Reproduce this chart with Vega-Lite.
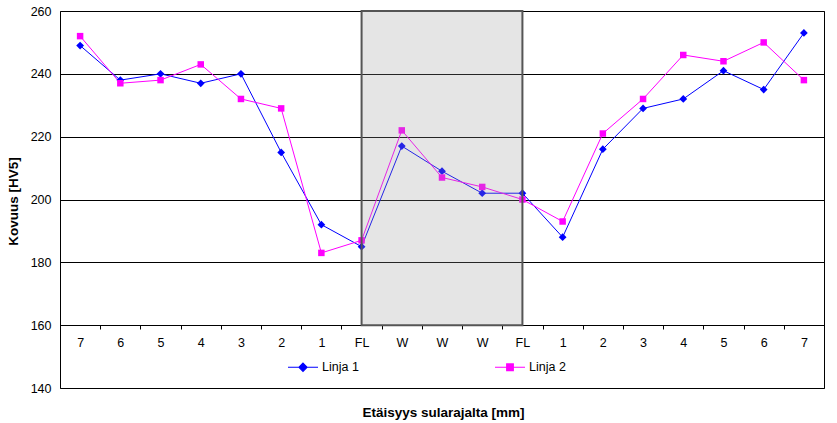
{
  "$schema": "https://vega.github.io/schema/vega-lite/v6.json",
  "width": 764,
  "height": 377,
  "autosize": {"type": "none"},
  "padding": {"left": 60, "top": 11, "right": 13, "bottom": 35},
  "background": "white",
  "config": {
    "font": "Liberation Sans",
    "view": {"stroke": "black", "strokeWidth": 1},
    "axis": {"labelColor": "black", "titleColor": "black", "labelFontSize": 12.5, "labelFont": "Liberation Sans", "titleFont": "Liberation Sans", "titleFontWeight": "bold", "titleFontSize": 13.5}
  },
  "datasets": {
    "hv": [
      {"i": 0, "series": "Linja 1", "v": 249}, {"i": 1, "series": "Linja 1", "v": 238}, {"i": 2, "series": "Linja 1", "v": 240},
      {"i": 3, "series": "Linja 1", "v": 237}, {"i": 4, "series": "Linja 1", "v": 240}, {"i": 5, "series": "Linja 1", "v": 215},
      {"i": 6, "series": "Linja 1", "v": 192}, {"i": 7, "series": "Linja 1", "v": 185}, {"i": 8, "series": "Linja 1", "v": 217},
      {"i": 9, "series": "Linja 1", "v": 209}, {"i": 10, "series": "Linja 1", "v": 202}, {"i": 11, "series": "Linja 1", "v": 202},
      {"i": 12, "series": "Linja 1", "v": 188}, {"i": 13, "series": "Linja 1", "v": 216}, {"i": 14, "series": "Linja 1", "v": 229},
      {"i": 15, "series": "Linja 1", "v": 232}, {"i": 16, "series": "Linja 1", "v": 241}, {"i": 17, "series": "Linja 1", "v": 235},
      {"i": 18, "series": "Linja 1", "v": 253},
      {"i": 0, "series": "Linja 2", "v": 252}, {"i": 1, "series": "Linja 2", "v": 237}, {"i": 2, "series": "Linja 2", "v": 238},
      {"i": 3, "series": "Linja 2", "v": 243}, {"i": 4, "series": "Linja 2", "v": 232}, {"i": 5, "series": "Linja 2", "v": 229},
      {"i": 6, "series": "Linja 2", "v": 183}, {"i": 7, "series": "Linja 2", "v": 187}, {"i": 8, "series": "Linja 2", "v": 222},
      {"i": 9, "series": "Linja 2", "v": 207}, {"i": 10, "series": "Linja 2", "v": 204}, {"i": 11, "series": "Linja 2", "v": 200},
      {"i": 12, "series": "Linja 2", "v": 193}, {"i": 13, "series": "Linja 2", "v": 221}, {"i": 14, "series": "Linja 2", "v": 232},
      {"i": 15, "series": "Linja 2", "v": 246}, {"i": 16, "series": "Linja 2", "v": 244}, {"i": 17, "series": "Linja 2", "v": 250},
      {"i": 18, "series": "Linja 2", "v": 238}
    ],
    "zone": [{"i": 7, "i2": 11, "lo": 160, "hi": 260}]
  },
  "layer": [
    {
      "data": {"name": "hv"},
      "mark": {"type": "line", "strokeWidth": 1},
      "encoding": {
        "x": {
          "field": "i", "type": "ordinal", "sort": "ascending",
          "scale": {"paddingInner": 0, "paddingOuter": 0},
          "axis": {
            "orient": "bottom", "offset": -63, "domain": false, "grid": false,
            "tickBand": "extent", "tickSize": 4, "tickColor": "black", "labelAngle": 0,
            "labelPadding": 7,
            "labelExpr": "['7','6','5','4','3','2','1','FL','W','W','W','FL','1','2','3','4','5','6','7'][datum.value]",
            "title": "Etäisyys sularajalta [mm]", "titleX": 383, "titleY": 91, "titleBaseline": "alphabetic", "titleAnchor": null, "titleAlign": "center"
          }
        },
        "y": {
          "field": "v", "type": "quantitative",
          "scale": {"domain": [140, 260], "nice": false, "zero": false},
          "axis": {
            "values": [140, 160, 180, 200, 220, 240, 260], "grid": true, "gridColor": "black", "gridOpacity": 1, "gridWidth": 1,
            "domain": false, "ticks": false, "labelPadding": 9,
            "title": "Kovuus [HV5]", "titleX": -43, "titleY": 190, "titleAngle": -90, "titleBaseline": "alphabetic", "titleAlign": "center"
          }
        },
        "color": {
          "field": "series", "type": "nominal",
          "scale": {"domain": ["Linja 1", "Linja 2"], "range": ["#0000FF", "#FF00FF"]},
          "legend": {
            "title": null, "orient": "none", "legendX": 227, "legendY": 340, "direction": "horizontal",
            "columns": 2, "columnPadding": 133, "symbolSize": 900, "labelOffset": 3,
            "labelFontSize": 12.5, "labelColor": "black", "labelFont": "Liberation Sans",
            "encode": {
              "symbols": {
                "update": {
                  "shape": {"signal": "datum.value === 'Linja 1' ? 'M-1,0L1,0M0,-0.27L0.27,0L0,0.27L-0.27,0Z' : 'M-1,0L1,0M-0.22,-0.22L0.22,-0.22L0.22,0.22L-0.22,0.22Z'"},
                  "stroke": {"signal": "datum.value === 'Linja 1' ? '#000080' : '#FF00FF'"},
                  "fill": {"signal": "datum.value === 'Linja 1' ? '#000080' : '#FF00FF'"},
                  "strokeWidth": {"value": 1.2},
                  "opacity": {"value": 1}
                }
              }
            }
          }
        }
      }
    },
    {
      "data": {"name": "hv"},
      "transform": [{"filter": "datum.series === 'Linja 1'"}],
      "mark": {"type": "point", "filled": true, "opacity": 1, "shape": "diamond", "size": 60},
      "encoding": {
        "x": {"field": "i", "type": "ordinal", "sort": "ascending"},
        "y": {"field": "v", "type": "quantitative"},
        "color": {"field": "series", "type": "nominal", "legend": null}
      }
    },
    {
      "data": {"name": "hv"},
      "transform": [{"filter": "datum.series === 'Linja 2'"}],
      "mark": {"type": "point", "filled": true, "opacity": 1, "shape": "square", "size": 42},
      "encoding": {
        "x": {"field": "i", "type": "ordinal", "sort": "ascending"},
        "y": {"field": "v", "type": "quantitative"},
        "color": {"field": "series", "type": "nominal", "legend": null}
      }
    },
    {
      "data": {"name": "zone"},
      "mark": {"type": "rect", "fill": "#999999", "fillOpacity": 0.25, "stroke": "#555555", "strokeWidth": 2},
      "encoding": {
        "x": {"field": "i", "type": "ordinal", "bandPosition": 0.5},
        "x2": {"field": "i2", "bandPosition": 0.5},
        "y": {"field": "lo", "type": "quantitative"},
        "y2": {"field": "hi"}
      }
    }
  ]
}
